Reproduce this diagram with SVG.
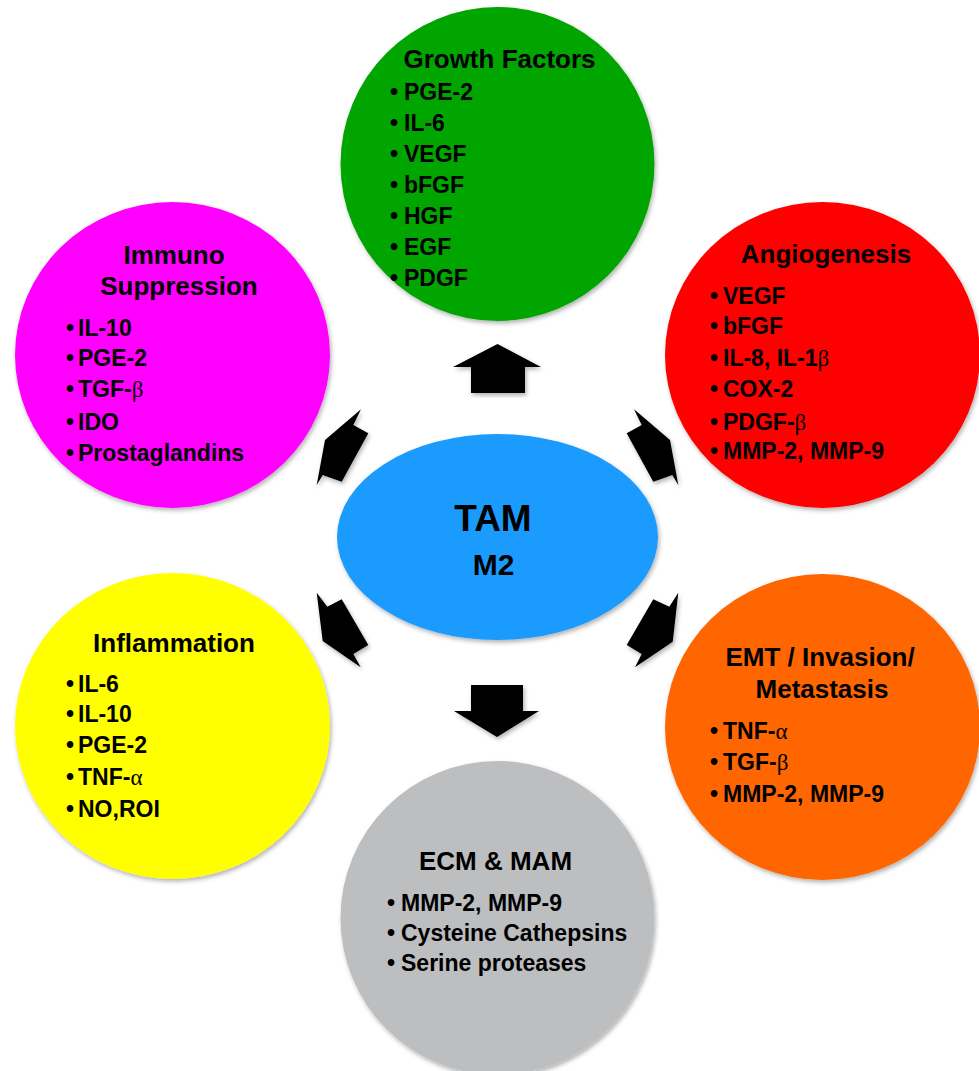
<svg xmlns="http://www.w3.org/2000/svg" width="979" height="1071" viewBox="0 0 979 1071">
<defs>
<filter id="sh" x="-10%" y="-10%" width="120%" height="120%">
<feDropShadow dx="1.5" dy="2.5" stdDeviation="2" flood-color="#000" flood-opacity="0.3"/>
</filter>
</defs>
<style>
text{font-family:"Liberation Sans",Arial,sans-serif;font-weight:bold;fill:#000}
.t{font-size:26px;text-anchor:middle}
.i{font-size:23px}
.g{font-family:"Liberation Serif","Times New Roman",serif;font-weight:normal}
.arr{fill:#000;filter:url(#sh)}
.c{filter:url(#sh)}
</style>
<rect width="979" height="1071" fill="#fff"/>

<g id="growth">
<circle class="c" cx="497.5" cy="164" r="157" fill="#00A500"/>
<text class="t" x="499.5" y="68">Growth Factors</text>
<text class="i"><tspan x="390" y="100">•</tspan><tspan x="404">PGE-2</tspan></text>
<text class="i"><tspan x="390" y="131">•</tspan><tspan x="404">IL-6</tspan></text>
<text class="i"><tspan x="390" y="162">•</tspan><tspan x="404">VEGF</tspan></text>
<text class="i"><tspan x="390" y="193">•</tspan><tspan x="404">bFGF</tspan></text>
<text class="i"><tspan x="390" y="224">•</tspan><tspan x="404">HGF</tspan></text>
<text class="i"><tspan x="390" y="255">•</tspan><tspan x="404">EGF</tspan></text>
<text class="i"><tspan x="390" y="286">•</tspan><tspan x="404">PDGF</tspan></text>
</g>

<g id="immuno">
<ellipse class="c" cx="172.5" cy="355" rx="157.5" ry="153" fill="#FF00FF"/>
<text class="t" x="174" y="264">Immuno</text>
<text class="t" x="179" y="295">Suppression</text>
<text class="i"><tspan x="66" y="336">•</tspan><tspan x="78">IL-10</tspan></text>
<text class="i"><tspan x="66" y="366">•</tspan><tspan x="78">PGE-2</tspan></text>
<text class="i"><tspan x="66" y="397">•</tspan><tspan x="78">TGF-</tspan><tspan class="g">β</tspan></text>
<text class="i"><tspan x="66" y="430">•</tspan><tspan x="78">IDO</tspan></text>
<text class="i"><tspan x="66" y="461">•</tspan><tspan x="78">Prostaglandins</tspan></text>
</g>

<g id="angio">
<ellipse class="c" cx="822.5" cy="355" rx="157.5" ry="153" fill="#FF0000"/>
<text class="t" x="826" y="263">Angiogenesis</text>
<text class="i"><tspan x="710" y="304">•</tspan><tspan x="723">VEGF</tspan></text>
<text class="i"><tspan x="710" y="334">•</tspan><tspan x="723">bFGF</tspan></text>
<text class="i"><tspan x="710" y="366">•</tspan><tspan x="723">IL-8, IL-1</tspan><tspan class="g">β</tspan></text>
<text class="i"><tspan x="710" y="397">•</tspan><tspan x="723">COX-2</tspan></text>
<text class="i"><tspan x="710" y="430">•</tspan><tspan x="723">PDGF-</tspan><tspan class="g">β</tspan></text>
<text class="i"><tspan x="710" y="459">•</tspan><tspan x="723">MMP-2, MMP-9</tspan></text>
</g>

<g id="inflammation">
<ellipse class="c" cx="172.5" cy="726" rx="157.5" ry="153" fill="#FFFF00"/>
<text class="t" x="174" y="652">Inflammation</text>
<text class="i"><tspan x="66" y="692">•</tspan><tspan x="78">IL-6</tspan></text>
<text class="i"><tspan x="66" y="722">•</tspan><tspan x="78">IL-10</tspan></text>
<text class="i"><tspan x="66" y="753">•</tspan><tspan x="78">PGE-2</tspan></text>
<text class="i"><tspan x="66" y="785">•</tspan><tspan x="78">TNF-</tspan><tspan class="g">α</tspan></text>
<text class="i"><tspan x="66" y="817">•</tspan><tspan x="78">NO,ROI</tspan></text>
</g>

<g id="emt">
<ellipse class="c" cx="822.5" cy="727" rx="157.5" ry="153" fill="#FF6600"/>
<text class="t" x="820" y="666">EMT / Invasion/</text>
<text class="t" x="822" y="698">Metastasis</text>
<text class="i"><tspan x="710" y="739">•</tspan><tspan x="723">TNF-</tspan><tspan class="g">α</tspan></text>
<text class="i"><tspan x="710" y="770">•</tspan><tspan x="723">TGF-</tspan><tspan class="g">β</tspan></text>
<text class="i"><tspan x="710" y="802">•</tspan><tspan x="723">MMP-2, MMP-9</tspan></text>
</g>

<g id="ecm">
<circle class="c" cx="497.5" cy="918" r="157" fill="#BDBEC0"/>
<text class="t" x="495.5" y="870">ECM &amp; MAM</text>
<text class="i"><tspan x="387" y="911">•</tspan><tspan x="401">MMP-2, MMP-9</tspan></text>
<text class="i"><tspan x="387" y="941">•</tspan><tspan x="401">Cysteine Cathepsins</tspan></text>
<text class="i"><tspan x="387" y="971">•</tspan><tspan x="401">Serine proteases</tspan></text>
</g>

<g id="tam">
<ellipse class="c" cx="497.5" cy="537" rx="160.5" ry="103" fill="#1F9BFF"/>
<text x="493" y="531" style="font-size:37px;text-anchor:middle">TAM</text>
<text x="493.5" y="575" style="font-size:30px;text-anchor:middle">M2</text>
</g>

<g id="connectors">
<polygon class="arr" points="497.5,344 541,367 525,367 525,393 471,393 471,367 453,367"/>
<polygon class="arr" points="471,685 523,685 523,711 539,711 497,737 454,711 471,711"/>
<polygon class="arr" points="361,409.3 353.3,425 368.3,433.3 341.7,481.7 322.7,475 316.7,485 325,440"/>
<polygon class="arr" points="634,409.3 641.7,425 626.7,433.3 653.3,481.7 672.3,475 678.3,485 670,440"/>
<polygon class="arr" points="316.7,592.7 327.3,606.7 341.7,599.3 368.3,645 353.3,654 360.7,667.3 322.7,641"/>
<polygon class="arr" points="678.3,592.7 669.3,606.7 653.3,599.3 626.7,645 641.7,654 635,667.3 672.7,641.7"/>
</g>
</svg>
